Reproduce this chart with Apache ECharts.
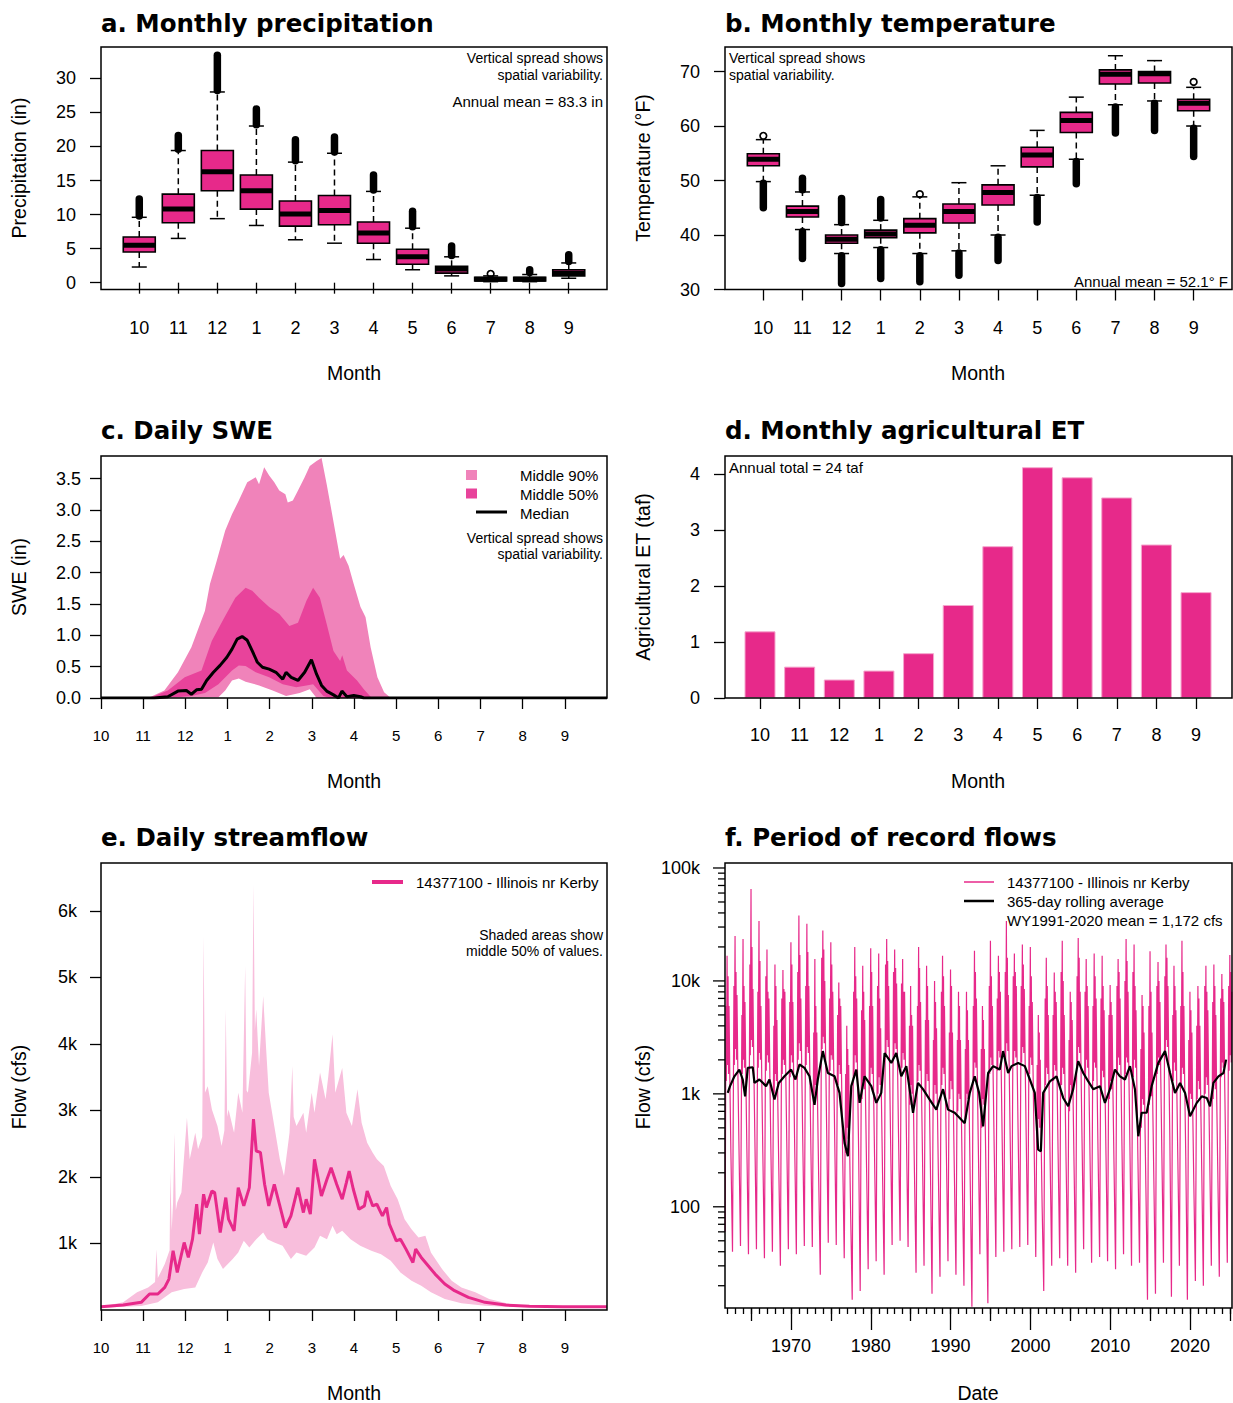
<!DOCTYPE html>
<html>
<head>
<meta charset="utf-8">
<title>Illinois nr Kerby – climate and streamflow</title>
<script src="https://cdn.jsdelivr.net/npm/echarts@6/dist/echarts.min.js"></script>
<style>
  html, body { margin: 0; padding: 0; background: #ffffff; }
  #chart { width: 1233px; height: 1403px; }
</style>
</head>
<body>
<div id="chart"></div>
<script>
// ---------------------------------------------------------------------------
// Data
// ---------------------------------------------------------------------------
const monthLabels = ['10', '11', '12', '1', '2', '3', '4', '5', '6', '7', '8', '9'];
const monthIndex = [1, 2, 3, 4, 5, 6, 7, 8, 9, 10, 11, 12];

// a. Monthly precipitation (in) – box statistics per water-year month
const prcpWhiskerLo = [2.3, 6.5, 9.4, 8.4, 6.3, 5.8, 3.4, 1.9, 1.0, 0.15, 0.15, 0.65];
const prcpQ1        = [4.5, 8.8, 13.5, 10.8, 8.3, 8.5, 5.8, 2.7, 1.4, 0.25, 0.25, 1.0];
const prcpMedian    = [5.5, 10.8, 16.3, 13.5, 10.1, 10.6, 7.3, 3.8, 2.0, 0.5, 0.5, 1.4];
const prcpQ3        = [6.7, 13.0, 19.4, 15.8, 12.0, 12.8, 8.9, 4.9, 2.4, 0.8, 0.8, 1.9];
const prcpWhiskerHi = [9.6, 19.4, 28.0, 23.0, 17.7, 19.0, 13.4, 8.0, 3.8, 1.0, 1.2, 2.9];
const prcpOutHiMin  = [9.8, 19.6, 28.2, 23.2, 17.9, 19.2, 13.6, 8.2, 4.0, 1.25, 1.5, 3.1];
const prcpOutHiMax  = [12.3, 21.6, 33.4, 25.5, 21.0, 21.4, 15.8, 10.5, 5.4, 1.35, 1.9, 4.1];
const prcpTicks = [0, 5, 10, 15, 20, 25, 30];

// b. Monthly temperature (°F)
const tempWhiskerLo = [49.8, 41.0, 36.6, 37.7, 36.6, 37.1, 40.0, 47.3, 53.9, 63.9, 64.6, 60.0];
const tempQ1        = [52.7, 43.3, 38.5, 39.5, 40.4, 42.2, 45.5, 52.5, 58.8, 67.7, 67.9, 62.8];
const tempMedian    = [53.9, 44.3, 39.2, 40.2, 41.8, 44.3, 47.8, 54.7, 61.0, 69.5, 69.6, 64.2];
const tempQ3        = [54.9, 45.3, 40.0, 40.9, 43.0, 45.7, 49.2, 56.1, 62.5, 70.3, 70.0, 64.9];
const tempWhiskerHi = [57.5, 47.9, 41.9, 42.7, 47.0, 49.6, 52.7, 59.2, 65.3, 72.9, 72.0, 67.1];
const tempOutHiMin  = [58.2, 48.3, 42.3, 43.1, 47.5, null, null, null, null, null, null, 68.1];
const tempOutHiMax  = [58.2, 50.4, 46.7, 46.5, 47.5, null, null, null, null, null, null, 68.1];
const tempOutLoMin  = [45.0, 35.7, 31.1, 32.0, 31.4, 32.6, 35.3, 42.4, 49.4, 58.7, 59.2, 54.4];
const tempOutLoMax  = [49.5, 40.6, 36.2, 37.3, 36.2, 36.7, 39.6, 46.9, 53.5, 63.5, 64.2, 59.6];
const tempTicks = [30, 40, 50, 60, 70];

// c. Daily SWE (in) – [day of water year, value]
const dayTicks = [0, 30.4, 60.8, 91.3, 121.7, 152.1, 182.5, 212.9, 243.3, 273.8, 304.2, 334.6];
const sweTicks = [0, 0.5, 1.0, 1.5, 2.0, 2.5, 3.0, 3.5];
const sweP95 = [[0,0],[34,0],[45.7,0.12],[55.5,0.41],[65.2,0.81],[75,1.39],[78.6,1.82],[83.5,2.19],[89.6,2.67],[94.5,2.93],[99.4,3.15],[105.5,3.44],[111.6,3.52],[114,3.41],[117.7,3.68],[121.3,3.55],[125,3.44],[128.6,3.31],[133,3.25],[134.7,3.12],[138.4,3.15],[142.1,3.31],[146.9,3.52],[150.6,3.70],[155.5,3.78],[159.1,3.83],[162.8,3.41],[166.5,2.96],[172.5,2.22],[175,2.28],[178.6,2.11],[182.3,1.82],[187.2,1.45],[190.8,1.29],[194.5,0.81],[199.4,0.33],[204.2,0.09],[209.1,0],[365,0]];
const sweP75 = [[0,0],[35,0],[48.2,0.12],[60.4,0.33],[72.5,0.44],[79.9,0.91],[88.4,1.26],[96.9,1.60],[104.3,1.76],[109.1,1.71],[114,1.60],[121.3,1.45],[128.6,1.34],[135.9,1.15],[142.1,1.20],[148.2,1.55],[153,1.76],[157.9,1.60],[162.8,1.18],[167.7,0.75],[172.5,0.59],[174,0.68],[177.4,0.44],[184.7,0.28],[189.6,0.14],[194.5,0.02],[196,0],[365,0]];
const sweMedian = [[0,0],[38.4,0],[48.2,0.02],[55.5,0.11],[61.6,0.12],[65.2,0.06],[68.9,0.13],[72.5,0.14],[76.2,0.28],[81.1,0.41],[85.9,0.52],[90.8,0.65],[94.5,0.78],[98.2,0.94],[101.8,0.98],[105.5,0.92],[109.1,0.75],[112.8,0.57],[116.5,0.49],[121.3,0.46],[126.2,0.41],[131.1,0.30],[133.5,0.41],[137.2,0.33],[142.1,0.28],[146.9,0.41],[151.8,0.61],[155.5,0.38],[159.1,0.20],[162.8,0.11],[167.7,0.05],[171.3,0],[173.8,0.11],[177.4,0.02],[182.3,0.04],[187.2,0.02],[189.6,0],[365,0]];
const sweP25 = [[0,0],[48.2,0],[65.2,0.03],[75,0.08],[84.7,0.22],[94.5,0.44],[99.4,0.52],[104.3,0.51],[111.6,0.41],[121.3,0.33],[131.1,0.22],[140.8,0.17],[148.2,0.20],[153,0.22],[160.4,0.03],[165.2,0],[365,0]];
const sweP5 = [[0,0],[84.7,0.01],[89.6,0.12],[94.5,0.28],[99.4,0.31],[104.3,0.26],[114,0.20],[123.8,0.12],[133.5,0.03],[143.3,0.08],[150.6,0.14],[155.5,0],[365,0]];

// d. Monthly agricultural ET (taf)
const etValues = [1.19, 0.56, 0.33, 0.49, 0.80, 1.66, 2.71, 4.12, 3.94, 3.58, 2.74, 1.89];
const etTicks = [0, 1, 2, 3, 4];

// e. Daily streamflow (cfs) – [day of water year, value]
const flowDayTicks = [1000, 2000, 3000, 4000, 5000, 6000];
const flowDayMedian = [[0,50],[16,75],[29,115],[35,240],[41,240],[46,340],[49,465],[52,890],[55,565],[60,1015],[63,790],[66,1065],[69,1590],[71,1140],[74,1740],[76,1540],[80,1790],[82,1765],[86,1165],[90,1690],[92,1365],[96,1190],[99,1840],[103,1565],[107,1840],[110,2870],[112,2390],[115,2370],[118,1890],[121,1565],[125,1890],[129,1565],[133,1240],[137,1415],[142,1840],[146,1465],[148,1665],[151,1440],[154,2265],[159,1715],[163,1965],[166,2140],[170,1890],[174,1665],[177,1915],[179,2090],[182,1815],[186,1515],[190,1565],[192,1790],[196,1565],[199,1590],[203,1415],[206,1540],[208,1290],[213,1040],[216,1065],[220,915],[225,715],[227,915],[231,790],[236,665],[241,540],[248,390],[255,290],[265,190],[277,115],[292,75],[309,55],[333,50],[365,50]];
const flowDayP75 = [[0,50],[16,115],[26,265],[34,340],[39,420],[40,915],[41,480],[46,690],[49.5,900],[50,2090],[51,1200],[52,1615],[53,2665],[54,1500],[55,1615],[58,1765],[62,2890],[64,2265],[68,2665],[70,2415],[73,2600],[74,5620],[75,3265],[77,3365],[80,3015],[84,2765],[87,2465],[89,2700],[90,4520],[91,2900],[92,3015],[96,2665],[99,3265],[102,2965],[104,5170],[105,3300],[106,3265],[109,3870],[110,6396],[111,4200],[112,4520],[114,3670],[117,4720],[119,3970],[121,3265],[125,2765],[129,2265],[132,2015],[136,2665],[138,3670],[139,2900],[141,2765],[146,2965],[148,2665],[152,3265],[154,2965],[158,3570],[162,3170],[164,3520],[167,4145],[169,3265],[174,3640],[177,2965],[181,2765],[185,3320],[188,2815],[192,2515],[196,2365],[199,2265],[204,2165],[209,1865],[214,1665],[219,1365],[224,1215],[229,1090],[234,1115],[238,865],[246,615],[253,440],[260,340],[270,265],[280,165],[295,90],[309,65],[334,55],[365,55]];
const flowDayP25 = [[0,35],[29,60],[41,115],[51,265],[60,315],[68,340],[73,565],[77,715],[81,1015],[84,765],[88,615],[95,765],[99,865],[103,1040],[107,940],[112,1065],[117,1165],[120,1065],[125,1015],[131,965],[137,765],[141,865],[148,815],[154,940],[158,1115],[163,1065],[167,1265],[170,1140],[174,1190],[180,1065],[187,965],[195,890],[202,840],[209,740],[216,565],[224,440],[231,365],[238,265],[248,165],[260,100],[277,65],[297,45],[334,40],[365,40]];

// f. Period of record flows (cfs) – storm peaks, recessions and low flows per water year
const flowWaterYears = [1962,1963,1964,1965,1966,1967,1968,1969,1970,1971,
  1972,1973,1974,1975,1976,1977,1978,1979,1980,1981,
  1982,1983,1984,1985,1986,1987,1988,1989,1990,1991,
  1992,1993,1994,1995,1996,1997,1998,1999,2000,2001,
  2002,2003,2004,2005,2006,2007,2008,2009,2010,2011,
  2012,2013,2014,2015,2016,2017,2018,2019,2020,2021,
  2022,2023,2024,2025];
const flowStartOct1961 = 60;
// fraction of the water year (from Oct 1) at which each value below occurs
const flowEventTiming = [0.10, 0.15, 0.24, 0.29, 0.36, 0.42, 0.48, 0.58, 0.72, 0.92];
const flowEarlyPeak = [6000,9000,5000,14000,8000,11000,4000,7000,6500,12000,
  9000,3500,16000,7000,5000,1500,8000,5500,6000,9000,
  14000,12000,9500,4000,6000,4500,3000,8000,3500,3000,
  2500,6000,2500,9000,7000,12000,11000,9000,6000,1800,
  7000,5000,12000,3000,11000,8000,6000,7000,5000,9000,
  10000,12000,2500,6000,9000,11000,5000,6000,3000,4000,
  9000,6500,7000,9000];
const flowEarlyDip = [1300,1800,1500,2200,1700,1600,1000,1500,1400,2000,
  1800,800,2500,1600,1200,300,1500,900,1200,1000,
  2200,2200,1700,800,1300,1000,800,1200,900,700,
  600,1300,500,1500,1600,2000,1800,1900,1500,350,
  1200,1300,1200,700,1800,1400,1300,1100,900,1500,
  1500,1400,500,800,1500,2200,1300,1200,700,900,
  1000,900,1400,1600];
const flowMainPeak = [16700,25000,23500,65000,34000,19000,14000,12500,22000,38000,
  32000,15600,28000,22000,9700,4000,20000,13600,19500,17500,
  23500,19000,15600,9000,20000,13600,10000,16700,12600,8000,
  8000,18500,6000,22700,16700,34000,17500,21000,20000,5000,
  16000,11900,22700,8000,24000,15600,17500,16700,9200,15600,
  23500,21000,7500,18300,14700,21000,13600,22700,8000,9000,
  13600,14000,11500,17000];
const flowMidDip = [1800,2500,2000,3000,2300,2200,1500,2000,2200,2800,
  2600,1200,3200,2200,1800,500,2200,1300,1700,1400,
  3000,2800,2300,1200,1800,1500,1200,1700,1300,1000,
  1000,1900,900,2100,2400,2800,2400,2600,2100,600,
  1700,1800,1700,1200,2600,2000,1900,1600,1300,2100,
  2100,2000,900,1100,2100,3000,1900,1700,1000,1300,
  1400,1300,1900,2200];
const flowLatePeak = [11000,12000,9000,20000,15000,8000,9000,8500,14000,17000,
  18000,6000,19000,14000,7000,2500,11000,8000,12000,7000,
  15000,13000,8000,5000,13000,9000,6500,11000,9000,6000,
  5500,12000,4500,11000,12000,16000,12000,14000,11000,3500,
  9000,8000,10000,6500,16000,9000,11000,9000,6500,12000,
  15000,9000,6000,8000,10000,16000,9000,12000,5500,7000,
  8000,9000,8500,12000];
const flowLateDip = [1500,2000,1700,2600,2000,1900,1300,1800,1900,2400,
  2300,1000,2800,2000,1500,400,1900,1100,1500,1200,
  2600,2500,2000,1000,1600,1300,1000,1500,1100,900,
  900,1700,800,1800,2100,2400,2100,2300,1800,500,
  1500,1600,1500,1000,2300,1700,1700,1400,1100,1800,
  1900,1700,800,950,1800,2600,1600,1500,900,1100,
  1200,1100,1700,1900];
const flowSpringPeak = [6000,7500,6500,8500,6000,7000,4500,8000,6500,7000,
  9000,3500,10000,8000,6000,1800,7000,4500,6000,3800,
  9000,9500,8000,4000,6500,4500,3800,6000,3500,3000,
  3000,7000,2500,6000,8000,7500,9000,8500,6500,2000,
  5000,6500,5000,4500,8000,6000,7000,5500,5000,7000,
  8000,5500,3500,3500,6500,9000,5500,6000,3500,4000,
  5500,5000,6500,8000];
const flowMay = [1500,1800,1600,2000,1500,1900,1000,1800,1500,2000,
  2200,800,2500,2200,1500,400,1600,1000,1300,900,
  2200,2300,2000,900,1400,1000,900,1400,900,800,
  700,1700,600,1400,1800,1900,2000,2200,1600,450,
  1200,1500,1200,1100,1900,1300,1600,1400,1200,1800,
  1700,1300,700,800,1500,2200,1300,1300,800,1000,
  1300,1100,1500,null];
const flowJune = [300,380,330,420,300,360,220,380,320,400,
  420,180,480,440,300,90,330,220,280,200,
  430,450,400,200,300,220,190,300,200,170,
  150,350,130,300,360,380,400,430,330,100,
  260,300,250,230,380,280,320,290,250,350,
  340,270,150,170,300,420,270,270,170,210,
  260,230,300,null];
const flowSummerLow = [40,45,38,42,35,40,30,42,38,45,
  44,25,48,46,35,15,18,28,33,25,
  46,50,44,26,30,17,24,33,25,20,
  13,38,14,36,40,42,44,46,36,18,
  30,35,30,26,42,32,36,33,28,38,
  30,32,15,17,32,16,30,15,22,20,
  30,24,32,null];
// 365-day rolling average – [decimal year, cfs]
const flowRolling = [[1962.07,1020],[1962.36,1170],[1962.91,1430],[1963.53,1640],[1963.95,1340],[1964.25,950],[1964.58,1700],[1965.21,1720],[1965.42,1250],[1966.04,1340],[1966.88,1170],[1967.3,1340],[1967.93,890],[1968.47,1250],[1969.18,1430],[1970.02,1640],[1970.56,1340],[1971.06,1820],[1971.69,1700],[1972.32,1430],[1972.95,800],[1973.36,1340],[1973.99,2390],[1974.62,1530],[1975.46,1430],[1976.08,1020],[1976.71,368],[1977.13,280],[1977.55,1170],[1978.18,1640],[1978.6,832],[1979.22,1430],[1980.06,1170],[1980.69,832],[1981.31,1020],[1981.73,2300],[1982.57,1880],[1983.19,2300],[1983.82,1430],[1984.45,1760],[1985.29,680],[1985.91,1250],[1986.54,1100],[1987.38,890],[1988.21,725],[1989.05,1100],[1989.68,725],[1990.51,680],[1991.35,590],[1991.77,550],[1992.4,1020],[1993.02,1430],[1993.57,1020],[1994.07,516],[1994.7,1530],[1995.33,1760],[1996.16,1640],[1996.58,2390],[1997.21,1530],[1997.63,1760],[1998.46,1880],[1999.3,1760],[1999.93,1340],[2000.55,1020],[2000.97,321],[2001.31,310],[2001.6,1020],[2002.44,1290],[2003.27,1430],[2004.11,920],[2004.74,776],[2005.36,1100],[2005.99,1950],[2006.62,1530],[2007.25,1290],[2007.87,1100],[2008.71,1170],[2009.34,832],[2009.97,1100],[2010.59,1640],[2011.22,1430],[2011.85,1340],[2012.48,1760],[2013.1,1100],[2013.52,421],[2013.94,680],[2014.57,680],[2015.19,1170],[2016.03,1880],[2016.87,2390],[2017.5,1530],[2018.12,1020],[2018.75,1250],[2019.38,1020],[2020.0,633],[2020.84,832],[2021.47,950],[2022.1,920],[2022.51,776],[2022.93,1250],[2023.56,1430],[2024.19,1530],[2024.52,2010]];
const flowDecadeTicks = [1970, 1980, 1990, 2000, 2010, 2020];
const flowHalfDecadeTicks = [1965, 1975, 1985, 1995, 2005, 2015, 2025];
const flowLogTicks = [20,30,40,50,60,70,80,90,100,200,300,400,500,600,700,800,900,
  1000,2000,3000,4000,5000,6000,7000,8000,9000,10000,20000,30000,40000,50000,60000,70000,80000,90000,100000];
const flowLogMajor = [100, 1000, 10000, 100000];

// ---------------------------------------------------------------------------
// Layout and styling
// ---------------------------------------------------------------------------
const PINK = '#E7298A';
const PINK_90 = '#F083BA';
const PINK_50 = '#E8439B';
const PINK_BAND = '#F8BEDC';
const FONT = '"Liberation Sans", Arial, sans-serif';
const panels = [
  { left: 101, top: 47, width: 506, height: 242.5 },
  { left: 725, top: 47, width: 507, height: 242.5 },
  { left: 101, top: 456, width: 506, height: 242 },
  { left: 725, top: 456, width: 507, height: 242 },
  { left: 101, top: 863, width: 506, height: 447 },
  { left: 725, top: 863, width: 507, height: 445 }
];
const FLOW_YEAR_MIN = 1961.73, FLOW_YEAR_MAX = 2025.26;

function tickStyle(values, len) {
  return { show: true, length: len, customValues: values, lineStyle: { color: '#000', width: 1.3 } };
}
function labelStyle(values, fmt, margin, size) {
  return { show: true, customValues: values, formatter: fmt, margin: margin, color: '#000', fontSize: size, fontFamily: FONT };
}
function valueAxis(gridIndex, min, max, extra) {
  return Object.assign({ type: 'value', gridIndex: gridIndex, min: min, max: max,
    axisLine: { show: false }, splitLine: { show: false } }, extra);
}
const monthFmt = v => monthLabels[Math.round(v) - 1];
const dayFmt = v => {
  let best = 0;
  dayTicks.forEach((d, i) => { if (Math.abs(d - v) < Math.abs(dayTicks[best] - v)) best = i; });
  return monthLabels[best];
};
const kFmt = v => (v >= 1000 ? (v / 1000) + 'k' : String(v));

// ---------------------------------------------------------------------------
// Series builders
// ---------------------------------------------------------------------------
function boxRows(lo, q1, md, q3, hi) {
  return monthIndex.map((m, i) => [m, lo[i], q1[i], md[i], q3[i], hi[i]]);
}
function outlierRows(minArr, maxArr) {
  const rows = [];
  monthIndex.forEach((m, i) => { if (minArr[i] != null) rows.push([m, minArr[i], maxArr[i]]); });
  return rows;
}
function renderBox(params, api) {
  const x = api.value(0);
  const lo = api.coord([x, api.value(1)]);
  const q1 = api.coord([x, api.value(2)]);
  const md = api.coord([x, api.value(3)]);
  const q3 = api.coord([x, api.value(4)]);
  const hi = api.coord([x, api.value(5)]);
  const cx = lo[0], hw = 16, cw = 7.5;
  return {
    type: 'group',
    children: [
      { type: 'line', shape: { x1: cx, y1: q3[1], x2: cx, y2: hi[1] }, style: { stroke: '#000', lineWidth: 1.5, lineDash: [6, 4] } },
      { type: 'line', shape: { x1: cx, y1: q1[1], x2: cx, y2: lo[1] }, style: { stroke: '#000', lineWidth: 1.5, lineDash: [6, 4] } },
      { type: 'line', shape: { x1: cx - cw, y1: hi[1], x2: cx + cw, y2: hi[1] }, style: { stroke: '#000', lineWidth: 1.5 } },
      { type: 'line', shape: { x1: cx - cw, y1: lo[1], x2: cx + cw, y2: lo[1] }, style: { stroke: '#000', lineWidth: 1.5 } },
      { type: 'rect', shape: { x: cx - hw, y: q3[1], width: 2 * hw, height: q1[1] - q3[1] }, style: { fill: PINK, stroke: '#000', lineWidth: 1.6 } },
      { type: 'line', shape: { x1: cx - hw, y1: md[1], x2: cx + hw, y2: md[1] }, style: { stroke: '#000', lineWidth: 5 } }
    ]
  };
}
function renderOutliers(params, api) {
  const x = api.value(0);
  const a = api.coord([x, api.value(1)]);
  const b = api.coord([x, api.value(2)]);
  if (Math.abs(a[1] - b[1]) < 2) {
    return { type: 'circle', shape: { cx: a[0], cy: (a[1] + b[1]) / 2, r: 3.3 }, style: { fill: 'none', stroke: '#000', lineWidth: 1.7 } };
  }
  return { type: 'line', shape: { x1: a[0], y1: a[1], x2: b[0], y2: b[1] }, style: { stroke: '#000', lineWidth: 7.5, lineCap: 'round' } };
}
function renderLogTick(params, api) {
  const p = api.coord([api.value(0), api.value(1)]);
  const len = flowLogMajor.indexOf(api.value(1)) >= 0 ? 12 : 7;
  return { type: 'line', shape: { x1: p[0] - len, y1: p[1], x2: p[0], y2: p[1] }, style: { stroke: '#000', lineWidth: 1.3 } };
}

// daily flow trace assembled from the per-water-year events
const flowEventSeries = [flowEarlyPeak, flowEarlyDip, flowMainPeak, flowMidDip, flowLatePeak,
  flowLateDip, flowSpringPeak, flowMay, flowJune, flowSummerLow];
const flowDaily = [[FLOW_YEAR_MIN + 0.02, flowStartOct1961]];
flowWaterYears.forEach((wy, i) => {
  const oct1 = wy - 1 + 0.75;
  flowEventSeries.forEach((arr, k) => {
    if (arr[i] != null) flowDaily.push([oct1 + flowEventTiming[k], arr[i]]);
  });
});

function area(xi, yi, data, color, z) {
  return { type: 'line', xAxisIndex: xi, yAxisIndex: yi, data: data, symbol: 'none', silent: true,
    lineStyle: { opacity: 0 }, areaStyle: { color: color, opacity: 1 }, z: z };
}

// ---------------------------------------------------------------------------
// Graphic elements: frames, titles, axis titles, legends and notes
// ---------------------------------------------------------------------------
function text(str, x, y, font, align, rotation) {
  return { type: 'text', x: x, y: y, rotation: rotation || 0, silent: true, z: 110,
    style: { text: str, font: font, fill: '#000', textAlign: align || 'left', textVerticalAlign: 'middle' } };
}
function seg(x1, y1, x2, y2, color, width) {
  return { type: 'line', silent: true, z: 110, shape: { x1: x1, y1: y1, x2: x2, y2: y2 }, style: { stroke: color, lineWidth: width } };
}
const TITLE = 'bold 24.5px "DejaVu Sans", sans-serif';
const AXT = '19.5px ' + FONT;
const NOTE = '15px ' + FONT;
const NOTE_SMALL = '14px ' + FONT;
const graphics = [];
panels.forEach(p => graphics.push({ type: 'rect', silent: true, z: 100,
  shape: { x: p.left, y: p.top, width: p.width, height: p.height },
  style: { fill: 'none', stroke: '#000', lineWidth: 1.5 } }));
graphics.push(
  text('a. Monthly precipitation', 101, 23, TITLE),
  text('b. Monthly temperature', 725, 23, TITLE),
  text('c. Daily SWE', 101, 430, TITLE),
  text('d. Monthly agricultural ET', 725, 430, TITLE),
  text('e. Daily streamflow', 101, 837, TITLE),
  text('f. Period of record flows', 725, 837, TITLE),
  text('Month', 354, 373, AXT, 'center'),
  text('Month', 978, 373, AXT, 'center'),
  text('Month', 354, 781, AXT, 'center'),
  text('Month', 978, 781, AXT, 'center'),
  text('Month', 354, 1393, AXT, 'center'),
  text('Date', 978, 1393, AXT, 'center'),
  text('Precipitation (in)', 19, 168, AXT, 'center', Math.PI / 2),
  text('Temperature (°F)', 643, 168, AXT, 'center', Math.PI / 2),
  text('SWE (in)', 19, 577, AXT, 'center', Math.PI / 2),
  text('Agricultural ET (taf)', 643, 577, AXT, 'center', Math.PI / 2),
  text('Flow (cfs)', 19, 1087, AXT, 'center', Math.PI / 2),
  text('Flow (cfs)', 643, 1087, AXT, 'center', Math.PI / 2),
  // a
  text('Vertical spread shows', 603, 58, NOTE_SMALL, 'right'),
  text('spatial variability.', 603, 74.5, NOTE_SMALL, 'right'),
  text('Annual mean = 83.3 in', 603, 101, NOTE, 'right'),
  // b
  text('Vertical spread shows', 729, 58, NOTE_SMALL),
  text('spatial variability.', 729, 74.5, NOTE_SMALL),
  text('Annual mean = 52.1° F', 1228, 281, NOTE, 'right'),
  // c
  { type: 'rect', silent: true, z: 110, shape: { x: 466, y: 470, width: 11, height: 10 }, style: { fill: PINK_90 } },
  { type: 'rect', silent: true, z: 110, shape: { x: 466, y: 488.5, width: 11, height: 10 }, style: { fill: PINK_50 } },
  seg(476, 512, 507, 512, '#000', 3),
  text('Middle 90%', 520, 475, NOTE),
  text('Middle 50%', 520, 494, NOTE),
  text('Median', 520, 513, NOTE),
  text('Vertical spread shows', 603, 537.5, NOTE_SMALL, 'right'),
  text('spatial variability.', 603, 554, NOTE_SMALL, 'right'),
  // d
  text('Annual total = 24 taf', 729, 467, NOTE),
  // e
  seg(372, 882, 403, 882, PINK, 4),
  text('14377100 - Illinois nr Kerby', 416, 882, NOTE),
  text('Shaded areas show', 603, 934.5, NOTE_SMALL, 'right'),
  text('middle 50% of values.', 603, 951, NOTE_SMALL, 'right'),
  // f
  seg(964, 882, 994, 882, PINK, 1.5),
  seg(964, 901, 994, 901, '#000', 2.5),
  text('14377100 - Illinois nr Kerby', 1007, 882, NOTE),
  text('365-day rolling average', 1007, 901, NOTE),
  text('WY1991-2020 mean = 1,172 cfs', 1007, 920, NOTE)
);

// ---------------------------------------------------------------------------
// Option
// ---------------------------------------------------------------------------
const option = {
  animation: false,
  backgroundColor: '#ffffff',
  grid: panels.map(p => Object.assign({ outerBoundsMode: 'none', containLabel: false }, p)),
  xAxis: [
    valueAxis(0, 0.02, 12.98, { axisTick: tickStyle(monthIndex, 11), axisLabel: labelStyle(monthIndex, monthFmt, 29, 18) }),
    valueAxis(1, 0.02, 12.98, { axisTick: tickStyle(monthIndex, 11), axisLabel: labelStyle(monthIndex, monthFmt, 29, 18) }),
    valueAxis(2, 0, 365, { axisTick: tickStyle(dayTicks, 11), axisLabel: labelStyle(dayTicks, dayFmt, 30, 15) }),
    valueAxis(3, 0.117, 12.907, { axisTick: tickStyle(monthIndex, 11), axisLabel: labelStyle(monthIndex, monthFmt, 28, 18) }),
    valueAxis(4, 0, 365, { axisTick: tickStyle(dayTicks, 11), axisLabel: labelStyle(dayTicks, dayFmt, 30, 15) }),
    valueAxis(5, FLOW_YEAR_MIN, FLOW_YEAR_MAX, { position: 'bottom', axisTick: tickStyle(flowDecadeTicks, 22), axisLabel: labelStyle(flowDecadeTicks, v => String(v), 29, 18) }),
    valueAxis(5, FLOW_YEAR_MIN, FLOW_YEAR_MAX, { position: 'bottom', axisTick: tickStyle(flowHalfDecadeTicks, 13), axisLabel: { show: false } }),
    valueAxis(5, FLOW_YEAR_MIN, FLOW_YEAR_MAX, { position: 'bottom', axisTick: tickStyle(flowWaterYears, 6), axisLabel: { show: false } })
  ],
  yAxis: [
    valueAxis(0, -1.0, 34.6, { axisTick: tickStyle(prcpTicks, 11), axisLabel: labelStyle(prcpTicks, v => String(v), 25, 18) }),
    valueAxis(1, 30, 74.5, { axisTick: tickStyle(tempTicks, 11), axisLabel: labelStyle(tempTicks, v => String(v), 25, 18) }),
    valueAxis(2, 0, 3.86, { axisTick: tickStyle(sweTicks, 11), axisLabel: labelStyle(sweTicks, v => v.toFixed(1), 20, 18) }),
    valueAxis(3, 0, 4.32, { axisTick: tickStyle(etTicks, 11), axisLabel: labelStyle(etTicks, v => String(v), 25, 18) }),
    valueAxis(4, 0, 6720, { axisTick: tickStyle(flowDayTicks, 11), axisLabel: labelStyle(flowDayTicks, kFmt, 24, 18) }),
    { type: 'log', logBase: 10, gridIndex: 5, min: 12.7, max: 110700,
      axisLine: { show: false }, splitLine: { show: false }, axisTick: { show: false },
      axisLabel: { formatter: kFmt, margin: 25, color: '#000', fontSize: 18, fontFamily: FONT, showMinLabel: false, showMaxLabel: false } }
  ],
  series: [
    // a
    { type: 'custom', xAxisIndex: 0, yAxisIndex: 0, renderItem: renderBox, encode: { x: 0, y: [1, 2, 3, 4, 5] },
      data: boxRows(prcpWhiskerLo, prcpQ1, prcpMedian, prcpQ3, prcpWhiskerHi), z: 3 },
    { type: 'custom', xAxisIndex: 0, yAxisIndex: 0, renderItem: renderOutliers, encode: { x: 0, y: [1, 2] },
      data: outlierRows(prcpOutHiMin, prcpOutHiMax), z: 4 },
    // b
    { type: 'custom', xAxisIndex: 1, yAxisIndex: 1, renderItem: renderBox, encode: { x: 0, y: [1, 2, 3, 4, 5] },
      data: boxRows(tempWhiskerLo, tempQ1, tempMedian, tempQ3, tempWhiskerHi), z: 3 },
    { type: 'custom', xAxisIndex: 1, yAxisIndex: 1, renderItem: renderOutliers, encode: { x: 0, y: [1, 2] },
      data: outlierRows(tempOutHiMin, tempOutHiMax).concat(outlierRows(tempOutLoMin, tempOutLoMax)), z: 4 },
    // c
    area(2, 2, sweP95, PINK_90, 2),
    area(2, 2, sweP75, PINK_50, 3),
    area(2, 2, sweP25, PINK_90, 4),
    area(2, 2, sweP5, '#ffffff', 5),
    { type: 'line', xAxisIndex: 2, yAxisIndex: 2, data: sweMedian, symbol: 'none', silent: true,
      lineStyle: { color: '#000', width: 3 }, z: 6 },
    // d
    { type: 'bar', xAxisIndex: 3, yAxisIndex: 3, data: etValues.map((v, i) => [monthIndex[i], v]), barWidth: 31, silent: true,
      itemStyle: { color: PINK, borderColor: '#F5A6CD', borderWidth: 1 } },
    // e
    area(4, 4, flowDayP75, PINK_BAND, 2),
    area(4, 4, flowDayP25, '#ffffff', 3),
    { type: 'line', xAxisIndex: 4, yAxisIndex: 4, data: flowDayMedian, symbol: 'none', silent: true,
      lineStyle: { color: PINK, width: 3 }, z: 4 },
    // f
    { type: 'line', xAxisIndex: 5, yAxisIndex: 5, data: flowDaily, symbol: 'none', silent: true,
      lineStyle: { color: PINK, width: 1.2 }, z: 2 },
    { type: 'line', xAxisIndex: 5, yAxisIndex: 5, data: flowRolling, symbol: 'none', silent: true,
      lineStyle: { color: '#000', width: 2.2 }, z: 3 },
    { type: 'custom', xAxisIndex: 5, yAxisIndex: 5, renderItem: renderLogTick, clip: false, silent: true,
      encode: { x: 0, y: 1 }, data: flowLogTicks.map(v => [FLOW_YEAR_MIN, v]), z: 5 }
  ],
  graphic: { elements: graphics }
};

const chart = echarts.init(document.getElementById('chart'), null, { renderer: 'svg', width: 1233, height: 1403 });
chart.setOption(option);
</script>
</body>
</html>
